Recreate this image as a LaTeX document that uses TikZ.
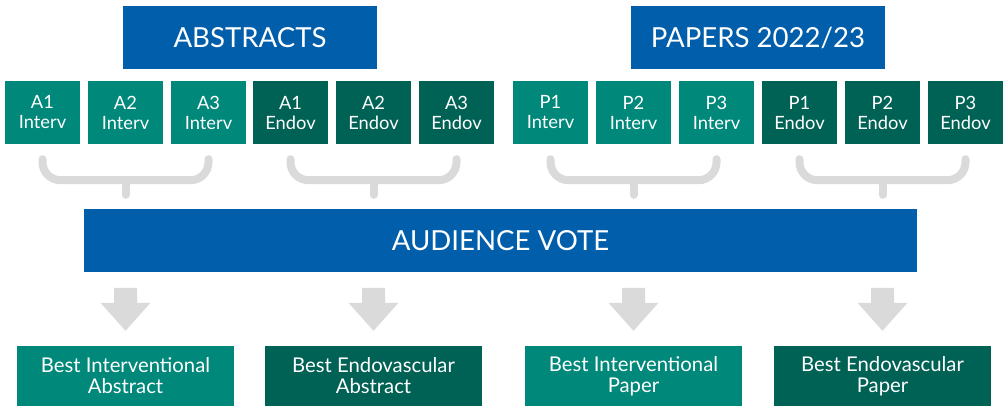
\documentclass[tikz,border=0pt]{standalone}
\usepackage{fontspec}
\setmainfont{Lato}
\usetikzlibrary{calc}
\definecolor{voteblue}{HTML}{005EAB}
\definecolor{intervteal}{HTML}{00887A}
\definecolor{endovgreen}{HTML}{006155}
\definecolor{bracegray}{HTML}{DADADA}
\begin{document}
\begin{tikzpicture}
        [x=1pt,y=-1pt,
        title/.style={fill=voteblue,text=white,inner sep=0pt,minimum height=63pt,font=\fontsize{27.6}{30}\selectfont},
        entry/.style={text=white,inner sep=0pt,minimum width=75pt,minimum height=63pt,align=center,font=\fontsize{18.3}{20}\selectfont},
        prize/.style={text=white,inner sep=0pt,minimum width=217pt,minimum height=60pt,align=center,font=\fontsize{20.3}{21}\selectfont},
        brace/.style={draw=bracegray,line width=8pt,line cap=round,rounded corners=18pt}]
        \useasboundingbox (0,0) rectangle (1007,406);

        \node[title,minimum width=254pt] (abstracts) at (250,37.5) {ABSTRACTS};
        \node[title,minimum width=254pt] (papers) at (758,37.5) {PAPERS 2022/23};

        \foreach \i/\x in {1/42.5,2/125.5,3/208.5}
        {\node[entry,fill=intervteal] (ai\i) at (\x,112.5) {A\i\\Interv};
         \node[entry,fill=endovgreen] (ae\i) at (\x+248,112.5) {A\i\\Endov};
         \node[entry,fill=intervteal] (pi\i) at (\x+508,112.5) {P\i\\Interv};
         \node[entry,fill=endovgreen] (pe\i) at (\x+757,112.5) {P\i\\Endov};}

        \node[title,minimum width=833pt] (vote) at (500.5,240.5) {AUDIENCE VOTE};

        \foreach \g in {ai,ae,pi,pe}
        {\draw[brace] ($(\g1.south)+(0,15)$) |- ($(\g2.south)+(0,36)$) -| ($(\g3.south)+(0,15)$);
         \draw[brace] ($(\g2.south)+(0,36)$) -- ($(\g2.south |- vote.north)+(0,-14)$);}

        \node[prize,fill=intervteal] (bia) at (125.5,376) {Best Interventional\\Abstract};
        \node[prize,fill=endovgreen] (bea) at (373.5,376) {Best Endovascular\\Abstract};
        \node[prize,fill=intervteal] (bip) at (633.5,376) {Best Interventional\\Paper};
        \node[prize,fill=endovgreen] (bep) at (882.5,376) {Best Endovascular\\Paper};

        \foreach \n in {bia,bea,bip,bep}
        {\fill[bracegray] ($(\n.north)+(0,-15)$) -- ++(-25,-28) -- ++(13.5,0) -- ++(0,-15)
          -- ++(23,0) -- ++(0,15) -- ++(13.5,0) -- cycle;}
      \end{tikzpicture}
\end{document}
